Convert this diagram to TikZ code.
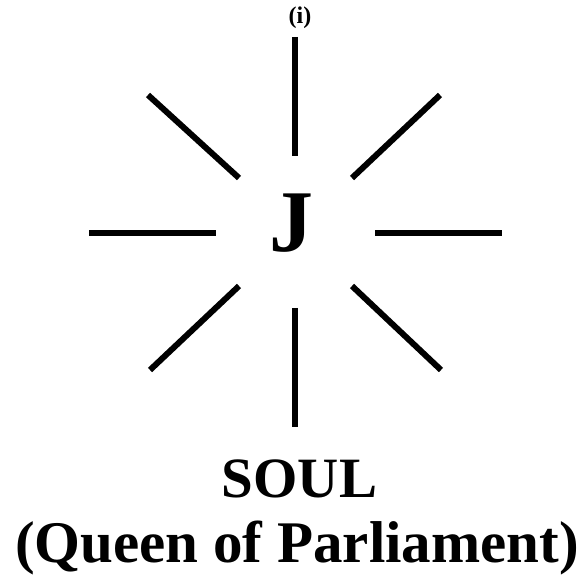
\documentclass[tikz,border=0pt]{standalone}
\usepackage{fontspec}
\setmainfont{Liberation Serif}
\begin{document}
\begin{tikzpicture}[x=1pt,y=-1pt,
  ray/.style={line width=6pt,line cap=butt,black},
  txt/.style={inner sep=0pt,anchor=base,font=\bfseries}]
\useasboundingbox (0,0) rectangle (582,575);
% ray end points
\coordinate (t1) at (295,37);  \coordinate (t2) at (295,156);
\coordinate (b1) at (295,308); \coordinate (b2) at (295,427);
\coordinate (l1) at (89,233);  \coordinate (l2) at (216,233);
\coordinate (r1) at (375,233); \coordinate (r2) at (502,233);
\coordinate (ul1) at (148,95); \coordinate (ul2) at (239,178);
\coordinate (ur1) at (440,95); \coordinate (ur2) at (352,178);
\coordinate (ll1) at (239,286); \coordinate (ll2) at (150,370);
\coordinate (lr1) at (352,286); \coordinate (lr2) at (441,370);
\draw[ray] (t1) -- (t2);
\draw[ray] (b1) -- (b2);
\draw[ray] (l1) -- (l2);
\draw[ray] (r1) -- (r2);
\draw[ray] (ul1) -- (ul2);
\draw[ray] (ur1) -- (ur2);
\draw[ray] (ll1) -- (ll2);
\draw[ray] (lr1) -- (lr2);
% texts
\node[txt] (lab) at (300,24) {\fontsize{24}{28}\selectfont (i)};
\node[txt] (J) at (291,252) {\fontsize{88}{94}\selectfont J};
\node[txt] (soul) at (299.5,497) {\fontsize{57}{62}\selectfont SOUL};
\node[txt] (queen) at (297,562) {\fontsize{59}{64}\selectfont (Queen of Parliament)};
\end{tikzpicture}
\end{document}
